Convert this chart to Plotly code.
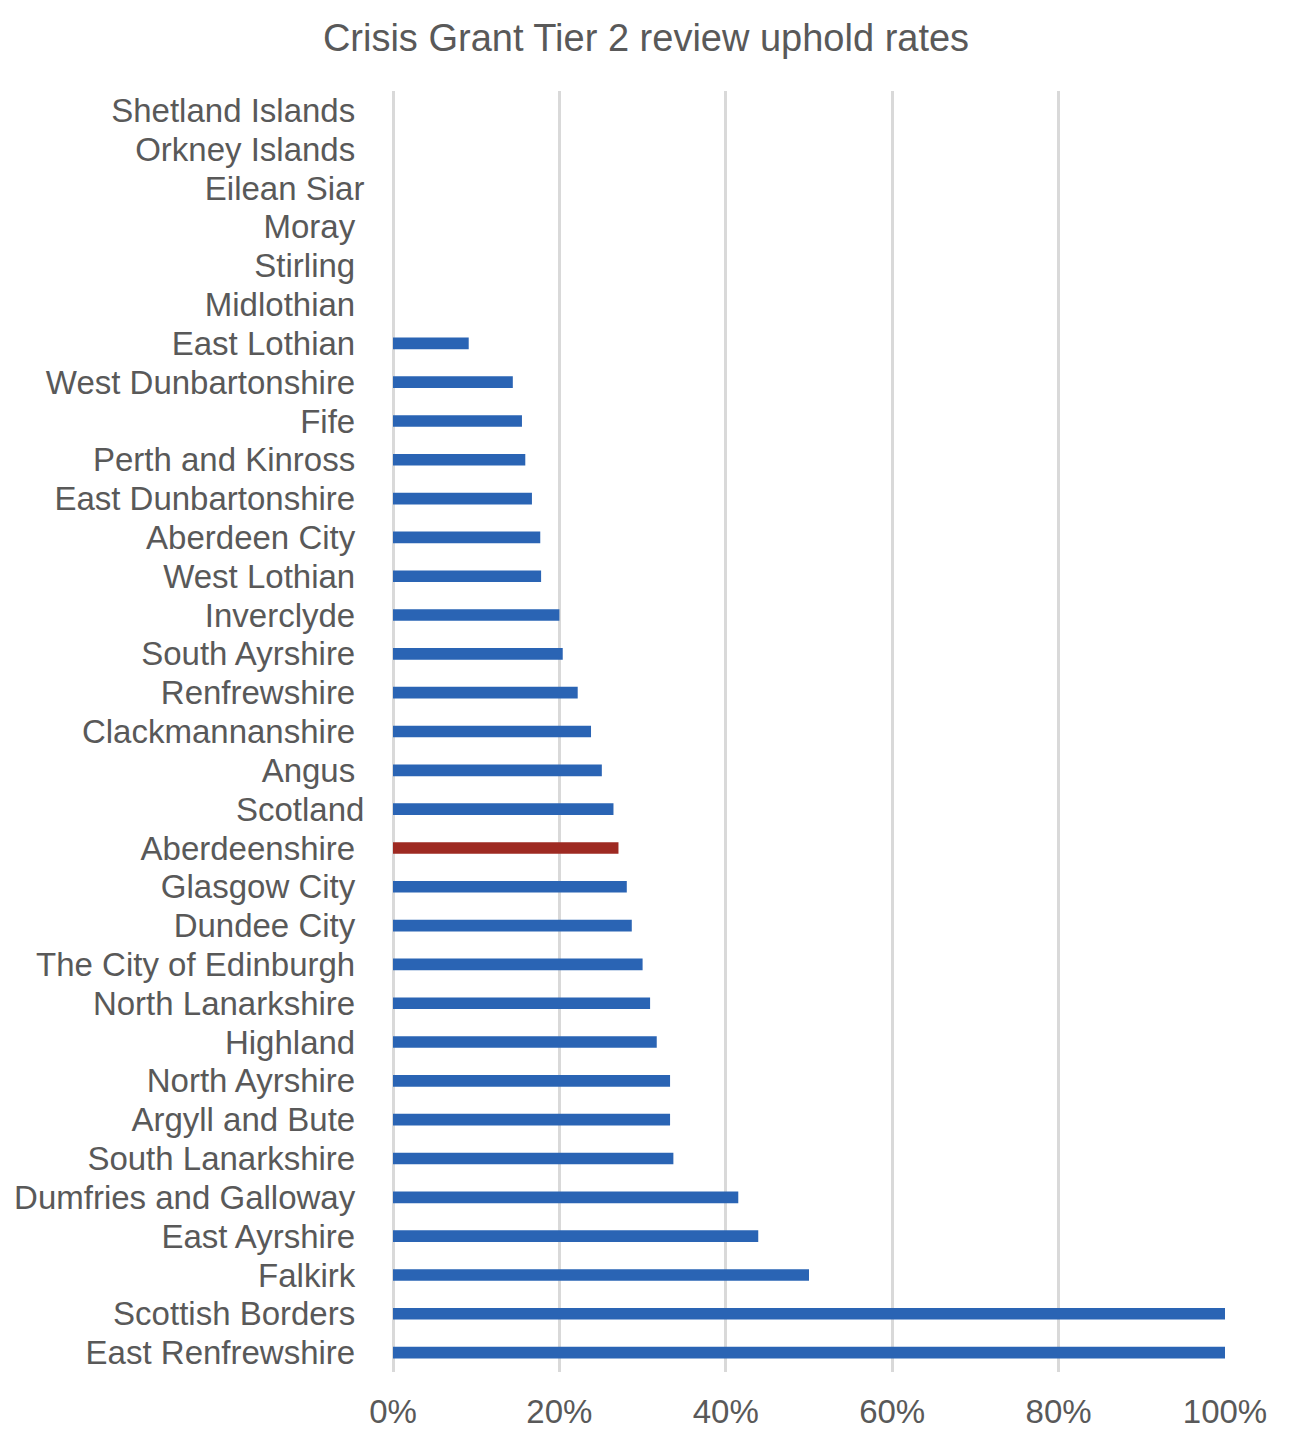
import plotly.graph_objects as go

categories = [
    "Shetland Islands", "Orkney Islands", "Eilean Siar", "Moray", "Stirling",
    "Midlothian", "East Lothian", "West Dunbartonshire", "Fife",
    "Perth and Kinross", "East Dunbartonshire", "Aberdeen City", "West Lothian",
    "Inverclyde", "South Ayrshire", "Renfrewshire", "Clackmannanshire", "Angus",
    "Scotland", "Aberdeenshire", "Glasgow City", "Dundee City",
    "The City of Edinburgh", "North Lanarkshire", "Highland", "North Ayrshire",
    "Argyll and Bute", "South Lanarkshire", "Dumfries and Galloway",
    "East Ayrshire", "Falkirk", "Scottish Borders", "East Renfrewshire",
]
uphold_rate = [
    0, 0, 0, 0, 0,
    0, 9.1, 14.4, 15.5,
    15.9, 16.7, 17.7, 17.8,
    20.0, 20.4, 22.2, 23.8, 25.1,
    26.5, 27.1, 28.1, 28.7,
    30.0, 30.9, 31.7, 33.3,
    33.3, 33.7, 41.5,
    43.9, 50.0, 100.0, 100.0,
]
x_ticks = [0, 20, 40, 60, 80, 100]
x_tick_labels = ["0%", "20%", "40%", "60%", "80%", "100%"]
highlight = "Aberdeenshire"
no_trailing_space = {"Eilean Siar", "Scotland"}

BLUE = "#2A64B4"
RED = "#9E2A22"
TEXT = "#595959"
GRID = "#D9D9D9"
FONT = "Liberation Sans, Arial, sans-serif"

colors = [RED if c == highlight else BLUE for c in categories]
tick_text = [c if c in no_trailing_space else c + "\u00a0" for c in categories]

fig = go.Figure(go.Bar(
    x=uphold_rate,
    y=categories,
    orientation="h",
    marker=dict(color=colors, line=dict(width=0)),
    hoverinfo="x+y",
))

fig.update_layout(
    width=1292,
    height=1442,
    margin=dict(l=385, r=75, t=83, b=78),
    paper_bgcolor="white",
    plot_bgcolor="white",
    bargap=0.7,
    showlegend=False,
    title=dict(
        text="Crisis Grant Tier 2 review uphold rates",
        x=(646 - 8) / 1292, xanchor="center",
        y=1 - 30 / 1442, yanchor="middle",
        font=dict(family=FONT, size=38, color=TEXT),
    ),
    font=dict(family=FONT, size=33, color=TEXT),
)

fig.update_xaxes(
    range=[0, 100],
    tickvals=x_ticks,
    ticktext=x_tick_labels,
    showgrid=True,
    gridcolor=GRID,
    gridwidth=2.5,
    zeroline=True,
    zerolinecolor=GRID,
    zerolinewidth=2.5,
    showline=False,
    automargin=False,
    ticks="outside",
    ticklen=10,
    tickcolor="rgba(0,0,0,0)",
    tickfont=dict(family=FONT, size=33, color=TEXT),
)

fig.update_yaxes(
    type="category",
    categoryorder="array",
    categoryarray=categories,
    tickvals=categories,
    ticktext=tick_text,
    autorange="reversed",
    showgrid=False,
    showline=False,
    automargin=False,
    ticks="outside",
    ticklen=21,
    tickcolor="rgba(0,0,0,0)",
    tickfont=dict(family=FONT, size=33, color=TEXT),
)

fig.write_html("out.html")
